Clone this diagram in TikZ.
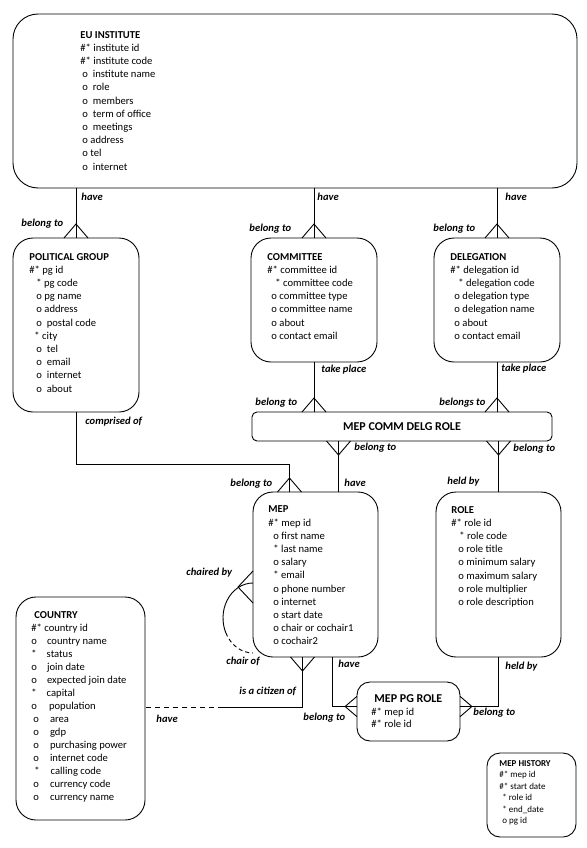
\documentclass[tikz,border=0pt]{standalone}
\usepackage{fontspec}
\setmainfont{Carlito}
\usetikzlibrary{positioning}
\newcommand{\indt}[1]{\hspace*{#1pt}}

\begin{document}
\begin{tikzpicture}[x=1pt, y=-1pt, line width=0.9pt,
    ent/.style={draw, rounded corners=20pt, inner sep=0pt, outer sep=0pt},
    txt/.style={align=left, inner sep=0pt, font=\fontsize{10.6}{13.2}\selectfont},
    rel/.style={anchor=west, inner sep=0pt, font=\fontsize{10.6}{12}\selectfont\bfseries\itshape},
    crow/.pic={\draw (-12,0) -- (0,-14) -- (12,0);}]
    \useasboundingbox (0,0) rectangle (586,848);

    % entities
    \node[ent, rounded corners=25pt, minimum width=564pt, minimum height=174pt] (eu) at (295,101) {};
    \node[ent, minimum width=126pt, minimum height=174pt] (pg) at (76,325) {};
    \node[ent, minimum width=126pt, minimum height=124pt] (comm) at (314,300) {};
    \node[ent, minimum width=126pt, minimum height=124pt] (delg) at (497,300) {};
    \node[ent, rounded corners=5pt, minimum width=300pt, minimum height=29pt, font=\fontsize{12}{14}\selectfont\bfseries] (mcdr) at (402,426.5) {MEP COMM DELG ROLE};
    \node[ent, minimum width=125pt, minimum height=165pt] (mep) at (315.5,574.5) {};
    \node[ent, minimum width=125pt, minimum height=165pt] (role) at (498.5,574.5) {};
    \node[ent, minimum width=129pt, minimum height=223pt] (country) at (80.5,708.5) {};
    \node[ent, rounded corners=13pt, minimum width=103pt, minimum height=59pt] (mpr) at (408.5,711.5) {};
    \node[ent, rounded corners=13pt, minimum width=89pt, minimum height=84pt] (hist) at (531.5,795) {};

    % attributes
    \node[txt, below right=16.6pt and 67pt of eu.north west] (eutxt) {\textbf{EU INSTITUTE}\\
        \#* institute id\\
        \#* institute code\\
        \indt{2}o\ \ institute name\\
        \indt{2}o\ \ role\\
        \indt{2}o\ \ members\\
        \indt{2}o\ \ term of office\\
        \indt{2}o\ \ meetings\\
        \indt{2}o address\\
        \indt{2}o tel\\
        \indt{2}o\ \ internet};
    \node[txt, below right=14.6pt and 16pt of pg.north west] (pgtxt) {\textbf{POLITICAL GROUP}\\
        \#* pg id\\
        \indt{7}* pg code\\
        \indt{7}o pg name\\
        \indt{7}o address\\
        \indt{7}o\ \ postal code\\
        \indt{5}* city\\
        \indt{7}o\ \ tel\\
        \indt{7}o\ \ email\\
        \indt{7}o\ \ internet\\
        \indt{7}o\ \ about};
    \node[txt, below right=14.6pt and 16pt of comm.north west] (commtxt) {\textbf{COMMITTEE}\\
        \#* committee id\\
        \indt{8}* committee code\\
        \indt{4}o committee type\\
        \indt{4}o committee name\\
        \indt{4}o about\\
        \indt{4}o contact email};
    \node[txt, below right=14.6pt and 16pt of delg.north west] (delgtxt) {\textbf{DELEGATION}\\
        \#* delegation id\\
        \indt{8}* delegation code\\
        \indt{4}o delegation type\\
        \indt{4}o delegation name\\
        \indt{4}o about\\
        \indt{4}o contact email};
    \node[txt, below right=13.6pt and 15pt of mep.north west] (meptxt) {\textbf{MEP}\\
        \#* mep id\\
        \indt{5}o first name\\
        \indt{5}* last name\\
        \indt{5}o salary\\
        \indt{5}* email\\
        \indt{5}o phone number\\
        \indt{5}o internet\\
        \indt{5}o start date\\
        \indt{5}o chair or cochair1\\
        \indt{5}o cochair2};
    \node[txt, below right=13.6pt and 15pt of role.north west] (roletxt) {\textbf{ROLE}\\
        \#* role id\\
        \indt{8}* role code\\
        \indt{7}o role title\\
        \indt{7}o minimum salary\\
        \indt{7}o maximum salary\\
        \indt{7}o role multiplier\\
        \indt{7}o role description};
    \node[txt, font=\fontsize{10.6}{13}\selectfont, below right=13.6pt and 15pt of country.north west] (countrytxt) {\indt{3}\textbf{COUNTRY}\\
        \#* country id\\
        o\hspace{10pt}country name\\
        *\hspace{10pt}status\\
        o\hspace{10pt}join date\\
        o\hspace{10pt}expected join date\\
        *\hspace{10pt}capital\\
        o\hspace{12pt}population\\
        \indt{2}o\hspace{11pt}area\\
        \indt{2}o\hspace{11pt}gdp\\
        \indt{2}o\hspace{11pt}purchasing power\\
        \indt{2}o\hspace{11pt}internet code\\
        \indt{3}*\hspace{11pt}calling code\\
        \indt{2}o\hspace{11pt}currency code\\
        \indt{2}o\hspace{11pt}currency name};
    \node[txt, font=\fontsize{10.6}{12}\selectfont, below right=12pt and 14pt of mpr.north west] (mprtxt) {\indt{3}{\fontsize{12}{14}\selectfont\bfseries MEP PG ROLE}\\[1.5pt]
        \#* mep id\\
        \#* role id};
    \node[txt, font=\fontsize{9}{11.5}\selectfont, below right=7pt and 12pt of hist.north west] (histtxt) {\textbf{MEP HISTORY}\\
        \#* mep id\\
        \#* start date\\
        \indt{3}* role id\\
        \indt{3}* end\_date\\
        \indt{3}o pg id};

    % relationships
    \draw (eu.south -| pg.north) -- (pg.north);
    \pic at (pg.north) {crow};
    \draw (eu.south -| comm.north) -- (comm.north);
    \pic at (comm.north) {crow};
    \draw (eu.south -| delg.north) -- (delg.north);
    \pic at (delg.north) {crow};
    \draw (comm.south) -- (comm.south |- mcdr.north);
    \pic at (comm.south |- mcdr.north) {crow};
    \draw (delg.south) -- (delg.south |- mcdr.north);
    \pic at (delg.south |- mcdr.north) {crow};

    \coordinate (mepin) at ([xshift=23pt]mep.north);
    \coordinate (pgin) at ([xshift=-26pt]mep.north);
    \coordinate (ctin) at ([xshift=-13pt]mep.south);
    \coordinate (prin) at ([xshift=17pt]mep.south);
    \coordinate (citz) at (223,707);
    \coordinate (prl) at ([yshift=5pt]mpr.west);
    \coordinate (prr) at ([yshift=5pt]mpr.east);

    \draw (mepin |- mcdr.south) -- (mepin);
    \pic[rotate=180] at (mepin |- mcdr.south) {crow};
    \draw (role.north |- mcdr.south) -- (role.north);
    \pic[rotate=180] at (role.north |- mcdr.south) {crow};
    \draw (pg.south) -- ++(0,52) -| (pgin);
    \pic at (pgin) {crow};

    % recursive chair
    \draw (mep.west |- 0,583) arc[start angle=90, end angle=205, x radius=30pt, y radius=35pt] coordinate (loopmid);
    \draw[dash pattern=on 4pt off 3pt] (loopmid) arc[start angle=205, end angle=270, x radius=30pt, y radius=35pt];
    \draw (mep.west |- 0,571) -- (238,587) -- (mep.west |- 0,603);

    \draw (ctin) -- (ctin |- citz) -- (citz);
    \draw[dash pattern=on 5pt off 4pt] (citz) -- (country.east |- citz);
    \pic[rotate=180] at (ctin) {crow};
    \draw (prin) |- (prl);
    \pic[rotate=90, scale=.85] at (prl) {crow};
    \draw (role.south) |- (prr);
    \pic[rotate=-90, scale=.85] at (prr) {crow};

    % labels
    \node[rel] (hv1) at (81,197) {have};
    \node[rel] (hv2) at (317,197) {have};
    \node[rel] (hv3) at (505,197) {have};
    \node[rel] (bt1) at (21,224) {belong to};
    \node[rel] (bt2) at (249,229) {belong to};
    \node[rel] (bt3) at (433,229) {belong to};
    \node[rel] (cmp) at (85,422) {comprised of};
    \node[rel] (tp1) at (321,370) {take place};
    \node[rel] (tp2) at (501,369) {take place};
    \node[rel] (bt4) at (255,403) {belong to};
    \node[rel] (bt5) at (439,403) {belongs to};
    \node[rel] (bt6) at (354,448) {belong to};
    \node[rel] (bt7) at (513,449) {belong to};
    \node[rel] (bt8) at (230,484) {belong to};
    \node[rel] (hv4) at (344,483) {have};
    \node[rel] (hb1) at (447,482) {held by};
    \node[rel] (chb) at (186,573) {chaired by};
    \node[rel] (cho) at (226,661) {chair of};
    \node[rel] (hv5) at (338,664) {have};
    \node[rel] (hb2) at (505,667) {held by};
    \node[rel] (cit) at (239,691) {is a citizen of};
    \node[rel] (hv6) at (156,719) {have};
    \node[rel] (bt9) at (303,718) {belong to};
    \node[rel] (bt10) at (473,713) {belong to};
\end{tikzpicture}
\end{document}
